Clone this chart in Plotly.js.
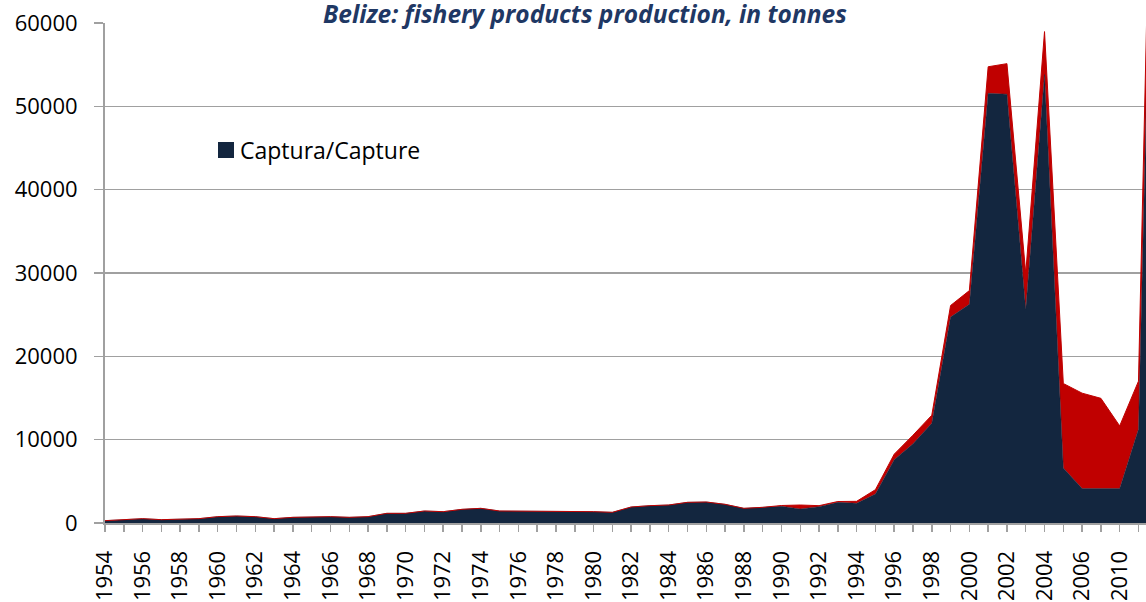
<!DOCTYPE html>
<html>
<head>
<meta charset="utf-8">
<script src="https://cdn.plot.ly/plotly-3.0.1.min.js"></script>
<style>
html,body{margin:0;padding:0;overflow:hidden;background:#fff;}
#chart{width:1146px;height:602px;}
</style>
</head>
<body>
<div id="chart"></div>
<script>
// Categories (years as shown on the category axis)
var years = ['1954','1955','1956','1957','1958','1959','1960','1961','1962','1963',
  '1964','1965','1966','1967','1968','1969','1970','1971','1972','1973',
  '1974','1975','1976','1977','1978','1979','1980','1981','1982','1983',
  '1984','1985','1986','1987','1988','1989','1990','1991','1992','1993',
  '1994','1995','1996','1997','1998','1999','2000','2001','2002','2003',
  '2004','2005','2006','2008','2010','2011','2012'];

// Captura/Capture (tonnes)
var capture = [280,400,520,400,480,520,760,840,760,520,
  680,760,760,680,760,1160,1160,1440,1360,1640,
  1760,1440,1440,1440,1440,1400,1360,1280,1920,2080,
  2160,2480,2520,2240,1760,1880,2000,1680,1960,2480,
  2360,3480,7600,9500,11980,24710,26240,51570,51450,25620,
  53800,6610,4130,4130,4130,11240,105000];

// Acuicultura/Aquaculture (tonnes)
var aquaculture = [0,0,0,0,0,0,0,0,0,0,
  0,0,0,0,0,0,0,0,0,0,
  0,0,0,0,0,0,0,0,0,0,
  0,0,0,0,0,0,100,480,120,100,
  240,520,660,1040,950,1390,1650,3180,3670,4340,
  5170,10130,11450,10830,7520,5780,12000];

// Y tick values and labels
var yTicks = [0,10000,20000,30000,40000,50000,60000];
var yTickLabels = ['0','10000','20000','30000','40000','50000','60000'];

// X tick labels: every second category
var tickLabels = years.map(function(y, i){ return i % 2 === 0 ? y : ''; });

var NAVY = '#13263F';
var RED = '#C00000';
var FONT = 'Open Sans, Noto Sans, sans-serif';

var traces = [
  {
    x: years, y: capture, type: 'scatter', mode: 'lines',
    stackgroup: 'one', name: 'Captura/Capture',
    line: {width: 0.5, color: NAVY}, fillcolor: NAVY,
    showlegend: false, hoverinfo: 'skip'
  },
  {
    x: years, y: aquaculture, type: 'scatter', mode: 'lines',
    stackgroup: 'one', name: 'Acuicultura/Aquaculture',
    line: {width: 1, color: RED}, fillcolor: RED,
    showlegend: false, hoverinfo: 'skip'
  }
];

var layout = {
  width: 1146, height: 602,
  margin: {l: 105, r: 0, t: 23, b: 79, pad: 0},
  paper_bgcolor: '#ffffff', plot_bgcolor: '#ffffff',
  font: {family: FONT, size: 22, color: '#000000'},
  title: {
    text: '<b><i>Belize: fishery products production, in tonnes</i></b>',
    font: {family: FONT, size: 24.5, color: '#1F3864'},
    xref: 'paper', x: 0.461, xanchor: 'center',
    yref: 'container', y: 1 - 14.5/602, yanchor: 'middle'
  },
  showlegend: false,
  xaxis: {
    type: 'category',
    range: [0, 55.4],
    tickmode: 'array', tickvals: years, ticktext: tickLabels,
    tickangle: -90,
    ticks: 'outside', ticklen: 7, tickwidth: 1.5, tickcolor: '#a0a0a0',
    showline: true, linecolor: '#a0a0a0', linewidth: 2,
    showgrid: false, zeroline: false,
    ticklabelstandoff: 10,
    tickfont: {family: FONT, size: 22, color: '#000000'},
    fixedrange: true
  },
  yaxis: {
    range: [0, 60000],
    tickmode: 'array', tickvals: yTicks, ticktext: yTickLabels,
    ticks: 'outside', ticklen: 9, tickwidth: 1.5, tickcolor: '#a0a0a0',
    showline: true, linecolor: '#a0a0a0', linewidth: 2,
    showgrid: true, gridcolor: '#a0a0a0', gridwidth: 1.5,
    zeroline: false,
    ticklabelstandoff: 12,
    tickfont: {family: FONT, size: 22, color: '#000000'},
    fixedrange: true
  },
  shapes: [
    {type: 'rect', xref: 'paper', yref: 'paper',
     x0: (218-105)/1041, x1: (234-105)/1041,
     y0: (523-158)/500, y1: (523-142)/500,
     fillcolor: NAVY, line: {width: 0}}
  ],
  annotations: [
    {xref: 'paper', yref: 'paper', x: (238-105)/1041, y: (523-150)/500,
     xanchor: 'left', yanchor: 'middle', showarrow: false,
     text: 'Captura/Capture',
     font: {family: FONT, size: 23, color: '#000000'}}
  ]
};

Plotly.newPlot('chart', traces, layout, {displayModeBar: false, staticPlot: true});
</script>
</body>
</html>
